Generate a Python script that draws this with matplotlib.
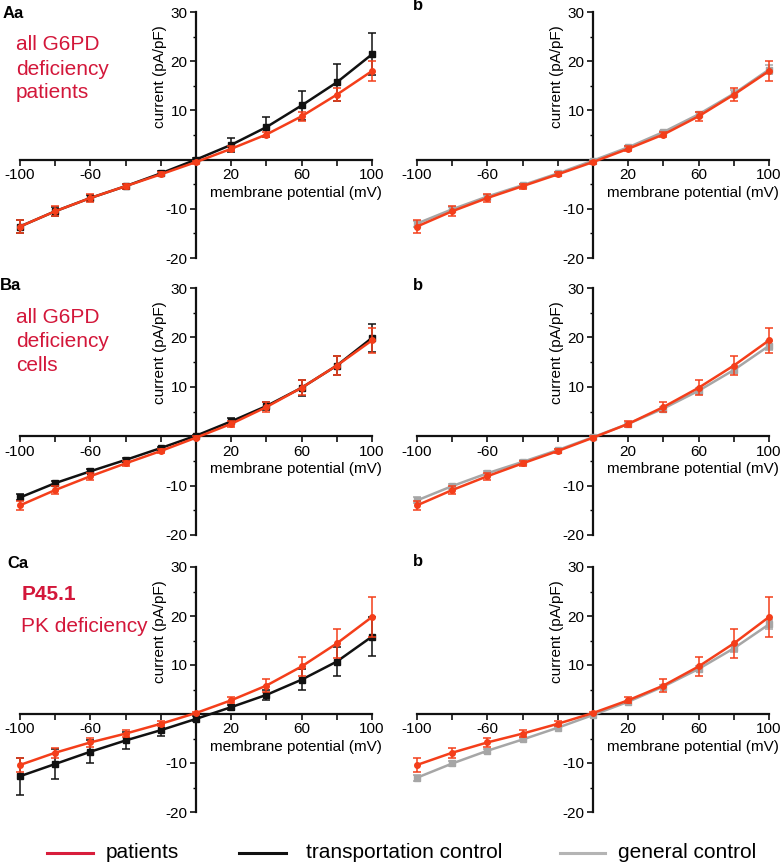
import numpy as np
import matplotlib.pyplot as plt
from matplotlib.lines import Line2D

plt.rcParams['font.family'] = ['Liberation Sans', 'DejaVu Sans']

W, H = 781, 866

voltage = [-100, -80, -60, -40, -20, 0, 20, 40, 60, 80, 100]
xtick_labels = ['-100', '', '-60', '', '', '', '20', '', '60', '', '100']

# A: all G6PD deficiency patients
a_patients = [-13.6, -10.5, -7.8, -5.4, -3.0, -0.5, 2.2, 5.1, 8.8, 13.2, 18.0]
a_patients_err = [1.4, 1.0, 0.8, 0.5, 0.4, 0.3, 0.5, 0.6, 0.9, 1.3, 2.0]
a_transport = [-13.6, -10.5, -7.8, -5.4, -2.8, 0.0, 3.0, 6.6, 11.0, 15.7, 21.4]
a_transport_err = [1.3, 0.9, 0.7, 0.5, 0.4, 0.3, 1.4, 2.1, 3.0, 3.7, 4.3]

# B: all G6PD deficiency cells
b_patients = [-14.0, -10.9, -8.1, -5.5, -3.0, -0.3, 2.5, 5.9, 9.8, 14.3, 19.4]
b_patients_err = [0.9, 0.9, 0.7, 0.5, 0.4, 0.3, 0.6, 1.1, 1.5, 2.0, 2.5]
b_transport = [-12.4, -9.5, -7.1, -4.8, -2.4, 0.1, 3.0, 6.1, 9.8, 14.3, 19.9]
b_transport_err = [0.6, 0.5, 0.4, 0.4, 0.3, 0.2, 0.6, 0.8, 1.6, 2.0, 2.9]

# C: P45.1 PK deficiency
c_patients = [-10.4, -7.9, -5.8, -4.0, -2.0, 0.2, 2.8, 5.8, 9.7, 14.4, 19.8]
c_patients_err = [1.4, 1.0, 0.9, 0.7, 0.5, 0.3, 0.6, 1.3, 2.0, 2.9, 4.1]
c_transport = [-12.7, -10.2, -7.7, -5.4, -3.3, -1.0, 1.4, 3.9, 7.0, 10.7, 15.8]
c_transport_err = [3.8, 3.1, 2.4, 1.8, 1.2, 0.5, 0.5, 1.0, 2.1, 2.9, 3.9]

# general control (same in all b panels)
general = [-13.0, -10.1, -7.5, -5.2, -2.8, -0.2, 2.5, 5.6, 9.2, 13.4, 18.3]
general_err = [0.6, 0.5, 0.4, 0.3, 0.2, 0.1, 0.2, 0.3, 0.5, 0.7, 0.9]

red = '#f43e1a'
red_text = '#d3173a'
black = '#111111'
grey = '#a6a6a6'


def px_rect(x0, x1, ytop, ybot):
    return [x0 / W, 1 - ybot / H, (x1 - x0) / W, (ybot - ytop) / H]


def ptext(x, y, s, **kw):
    return fig.text(x / W, 1 - y / H, s, **kw)


def setup_axes(rect):
    ax = fig.add_axes(rect)
    ax.set_xlim(-100, 100)
    ax.set_ylim(-20, 30)
    ax.patch.set_alpha(0)
    for side in ['top', 'right']:
        ax.spines[side].set_visible(False)
    ax.spines['left'].set_position(('data', 0))
    ax.spines['bottom'].set_position(('data', 0))
    for side in ['left', 'bottom']:
        ax.spines[side].set_linewidth(1.6)
        ax.spines[side].set_color(black)
    ax.set_xticks(voltage)
    ax.set_xticklabels(xtick_labels)
    ax.set_yticks([-20, -10, 0, 10, 20, 30])
    ax.set_yticklabels(['-20', '-10', '', '10', '20', '30'])
    ax.set_yticks([-15, -5, 5, 15, 25], minor=True)
    ax.tick_params(axis='both', which='major', labelsize=11, width=1.2,
                   length=4, pad=2, color=black)
    ax.tick_params(axis='y', which='minor', width=1.0, length=2.5)
    ax.text(105.5, -6.7, 'membrane potential (mV)', ha='right', va='center',
            fontsize=11, clip_on=False)
    ax.text(-20.5, 16.9, 'current (pA/pF)', rotation=90, ha='center',
            va='center', fontsize=11, clip_on=False)
    return ax


def curve(ax, y, err, color, marker, z):
    cont = ax.errorbar(voltage, y, yerr=err, color=color, lw=1.8,
                       marker=marker, ms=4, capsize=3, elinewidth=1.1,
                       capthick=1.1, zorder=z)
    for art in cont.get_children():
        art.set_clip_on(False)


fig = plt.figure(figsize=(W / 100, H / 100), dpi=100)

rows = [(12, 258), (288, 535), (567, 812)]
cols = [(20, 372), (417, 769)]

data = [
    (a_patients, a_patients_err, a_transport, a_transport_err),
    (b_patients, b_patients_err, b_transport, b_transport_err),
    (c_patients, c_patients_err, c_transport, c_transport_err),
]

for (ytop, ybot), (pat, pat_err, trans, trans_err) in zip(rows, data):
    ax_a = setup_axes(px_rect(cols[0][0], cols[0][1], ytop, ybot))
    curve(ax_a, trans, trans_err, black, 's', 3)
    curve(ax_a, pat, pat_err, red, 'o', 4)

    ax_b = setup_axes(px_rect(cols[1][0], cols[1][1], ytop, ybot))
    curve(ax_b, general, general_err, grey, 's', 3)
    curve(ax_b, pat, pat_err, red, 'o', 4)

# panel letters
ptext(3, 14, 'Aa', fontsize=12, fontweight='bold', va='center')
ptext(413, 6, 'b', fontsize=12, fontweight='bold', va='center')
ptext(0, 285, 'Ba', fontsize=12, fontweight='bold', va='center')
ptext(413, 285, 'b', fontsize=12, fontweight='bold', va='center')
ptext(7, 563, 'Ca', fontsize=12, fontweight='bold', va='center')
ptext(413, 562, 'b', fontsize=12, fontweight='bold', va='center')

# red annotations
for s, yb in [('all G6PD', 50), ('deficiency', 75), ('patients', 98)]:
    ptext(16, yb, s, fontsize=15, color=red_text, va='baseline')
for s, yb in [('all G6PD', 323), ('deficiency', 347), ('cells', 371)]:
    ptext(16, yb, s, fontsize=15, color=red_text, va='baseline')
ptext(22, 600, 'P45.1', fontsize=15, fontweight='bold', color=red_text,
      va='baseline')
ptext(21, 632, 'PK deficiency', fontsize=15, color=red_text, va='baseline')

# legend along the bottom
legend_items = [('patients', '#d81e3c', 47, 93, 106),
                ('transportation control', black, 239, 286, 306),
                ('general control', '#b4b4b4', 560, 605, 618)]
for label, col, lx0, lx1, tx in legend_items:
    fig.add_artist(Line2D([lx0 / W, lx1 / W], [1 - 853 / H, 1 - 853 / H],
                          color=col, lw=2.2, transform=fig.transFigure))
    ptext(tx, 852, label, fontsize=15, va='center')

fig.savefig('out.png', dpi=100)
